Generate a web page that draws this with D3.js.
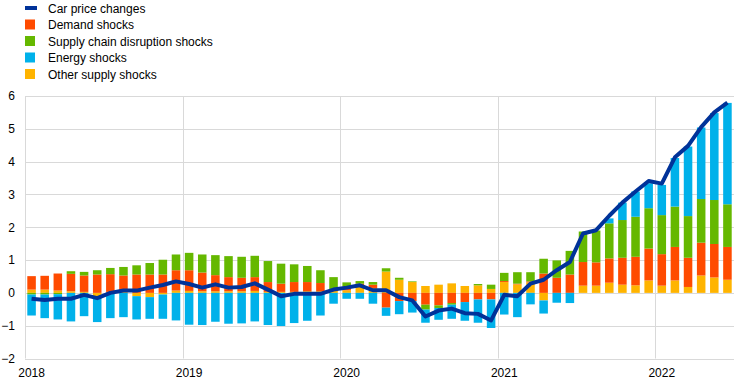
<!DOCTYPE html>
<html>
<head>
<meta charset="utf-8">
<script src="https://cdn.jsdelivr.net/npm/d3@7"></script>
<style>
  body { margin: 0; background: #fff; }
  svg text { font-family: Arial, "Liberation Sans", sans-serif; font-size: 12px; fill: #000; }
</style>
</head>
<body>
<svg id="chart" width="743" height="392"></svg>
<script>
// monthly, Jan 2018 - Jun 2022
var years = ["2018", "2019", "2020", "2021", "2022"];

var demand = [
  0.41, 0.42, 0.52, 0.53, 0.50, 0.56, 0.54, 0.50, 0.56, 0.56, 0.56, 0.62,
  0.63, 0.57, 0.49, 0.43, 0.41, 0.42, 0.30, 0.25, 0.30, 0.28, 0.25, 0.02,
  0.12, 0.06, 0.10, -0.45, -0.25, -0.25, -0.36, -0.38, -0.31, -0.28, -0.20, -0.20,
  0.03, 0.02, 0.03, 0.59, 0.46, 0.56, 0.72, 0.71, 0.74, 0.82, 0.87, 0.97,
  0.96, 1.02, 0.89, 1.00, 1.02, 1.00
];
var supplyChain = [
  -0.05, -0.05, -0.04, 0.08, 0.11, 0.13, 0.19, 0.26, 0.28, 0.35, 0.45, 0.48,
  0.53, 0.55, 0.61, 0.64, 0.64, 0.65, 0.64, 0.61, 0.54, 0.49, 0.39, 0.38,
  0.12, 0.08, 0.08, 0.10, 0.06, 0.02, -0.15, -0.08, -0.05, 0.00, 0.04, 0.13,
  0.25, 0.35, 0.28, 0.45, 0.53, 0.72, 0.93, 0.97, 1.07, 1.15, 1.22, 1.23,
  1.19, 1.23, 1.27, 1.33, 1.34, 1.30
];
var energy = [
  -0.64, -0.72, -0.77, -0.87, -0.71, -0.79, -0.77, -0.74, -0.71, -0.66, -0.74, -0.84,
  -0.97, -0.98, -0.88, -0.94, -0.93, -0.87, -0.98, -1.01, -0.92, -0.85, -0.69, -0.33,
  -0.18, -0.18, -0.33, -0.25, -0.40, -0.35, -0.40, -0.36, -0.43, -0.57, -0.71, -0.87,
  -0.66, -0.74, -0.35, -0.40, -0.30, -0.31, 0.00, 0.00, 0.15, 0.53, 0.77, 0.76,
  0.92, 1.48, 2.12, 2.18, 2.65, 3.09
];
var otherSupply = [
  0.10, 0.10, 0.07, 0.05, 0.03, -0.10, 0.03, 0.03, -0.10, -0.13, -0.05, 0.07,
  0.06, 0.05, 0.05, 0.05, 0.05, 0.06, 0.03, 0.03, 0.03, 0.05, 0.05, 0.08,
  0.08, 0.22, 0.15, 0.65, 0.40, 0.33, 0.21, 0.25, 0.29, 0.21, 0.23, 0.12,
  0.33, 0.26, 0.32, -0.23, 0.00, 0.00, 0.22, 0.22, 0.31, 0.25, 0.23, 0.38,
  0.22, 0.38, 0.18, 0.53, 0.47, 0.40
];
var carPrice = [
  -0.18, -0.22, -0.18, -0.18, -0.06, -0.16, 0.00, 0.07, 0.07, 0.16, 0.24, 0.35,
  0.27, 0.16, 0.26, 0.16, 0.18, 0.29, 0.10, -0.10, -0.03, -0.03, -0.03, 0.10,
  0.16, 0.23, 0.08, 0.08, -0.13, -0.23, -0.72, -0.54, -0.48, -0.62, -0.64, -0.84,
  -0.06, -0.10, 0.28, 0.40, 0.69, 0.94, 1.81, 1.91, 2.35, 2.75, 3.09, 3.41,
  3.33, 4.13, 4.48, 5.05, 5.50, 5.80
];

var yTicks = [-2, -1, 0, 1, 2, 3, 4, 5, 6];

var colors = {
  line: "#003299",
  demand: "#ff4b00",
  supply: "#65b800",
  energy: "#00b1ea",
  other: "#ffb400"
};

var svg = d3.select("#chart");
var margin = {top: 96, right: 9, bottom: 33.5, left: 25},
    width = 743 - margin.left - margin.right,
    height = 392 - margin.top - margin.bottom;

// rows for the stack
var rows = carPrice.map(function(d, i) {
  return {i: i, other: otherSupply[i], demand: demand[i], supply: supplyChain[i], energy: energy[i]};
});

var x = d3.scaleBand()
  .domain(d3.range(rows.length))
  .range([margin.left, margin.left + width])
  .paddingInner(0.35)
  .paddingOuter(0.175);

var y = d3.scaleLinear()
  .domain([-2, 6])
  .range([margin.top + height, margin.top]);

var step = x.step();
var x0 = margin.left;

// horizontal gridlines
svg.append("g").selectAll("line")
  .data(yTicks)
  .enter().append("line")
  .attr("x1", x0)
  .attr("x2", margin.left + width)
  .attr("y1", function(d) { return Math.round(y(d)) + 0.5; })
  .attr("y2", function(d) { return Math.round(y(d)) + 0.5; })
  .attr("stroke", "#d9d9d9")
  .attr("stroke-width", 1);

// vertical gridlines at year starts
svg.append("g").selectAll("line")
  .data(years)
  .enter().append("line")
  .attr("x1", function(d, k) { return Math.round(x0 + k * 12 * step) + 0.5; })
  .attr("x2", function(d, k) { return Math.round(x0 + k * 12 * step) + 0.5; })
  .attr("y1", margin.top)
  .attr("y2", margin.top + height)
  .attr("stroke", "#d9d9d9")
  .attr("stroke-width", 1);

// stacked bars
var keys = ["other", "demand", "supply", "energy"];
var series = d3.stack()
  .keys(keys)
  .offset(d3.stackOffsetDiverging)(rows);

svg.append("g").selectAll("g")
  .data(series)
  .enter().append("g")
  .attr("fill", function(s) { return colors[s.key]; })
  .selectAll("rect")
  .data(function(s) { return s; })
  .enter().append("rect")
  .attr("x", function(d) { return x(d.data.i); })
  .attr("width", x.bandwidth())
  .attr("y", function(d) { return y(Math.max(d[0], d[1])); })
  .attr("height", function(d) { return Math.abs(y(d[0]) - y(d[1])); });

// car price line
var line = d3.line()
  .x(function(d, i) { return x(i) + x.bandwidth() / 2; })
  .y(function(d) { return y(d); });

svg.append("path")
  .datum(carPrice)
  .attr("fill", "none")
  .attr("stroke", colors.line)
  .attr("stroke-width", 4)
  .attr("stroke-linejoin", "round")
  .attr("d", line);

// y axis labels
var yAxis = d3.axisLeft(y).tickValues(yTicks).tickSize(0).tickPadding(0)
  .tickFormat(d3.format("d"));
svg.append("g")
  .attr("transform", "translate(15,0)")
  .call(yAxis)
  .call(function(g) { g.select(".domain").remove(); })
  .selectAll("text")
  .attr("font-size", 12)
  .attr("font-family", "Arial, 'Liberation Sans', sans-serif");

// x axis year labels, centred on January bars
svg.append("g").selectAll("text")
  .data(years)
  .enter().append("text")
  .attr("x", function(d, k) { return x(k * 12) + x.bandwidth() / 2; })
  .attr("y", 377)
  .attr("text-anchor", "middle")
  .text(function(d) { return d; });

// legend
var legendItems = [
  {label: "Car price changes", key: "line"},
  {label: "Demand shocks", key: "demand"},
  {label: "Supply chain disruption shocks", key: "supply"},
  {label: "Energy shocks", key: "energy"},
  {label: "Other supply shocks", key: "other"}
];

var legend = svg.append("g").selectAll("g")
  .data(legendItems)
  .enter().append("g")
  .attr("transform", function(d, i) { return "translate(25," + (8 + i * 16.5) + ")"; });

legend.append("rect")
  .attr("x", 0)
  .attr("y", function(d) { return d.key === "line" ? -2 : -5; })
  .attr("width", function(d) { return d.key === "line" ? 12 : 10; })
  .attr("height", function(d) { return d.key === "line" ? 4 : 10; })
  .attr("fill", function(d) { return colors[d.key]; });

legend.append("text")
  .attr("x", 23)
  .attr("y", 4.5)
  .text(function(d) { return d.label; });
</script>
</body>
</html>
